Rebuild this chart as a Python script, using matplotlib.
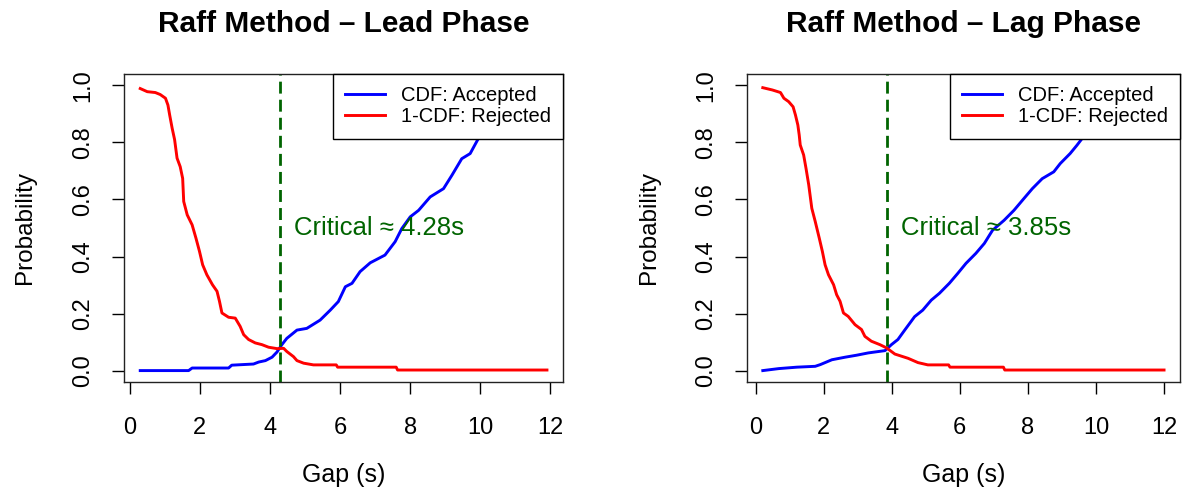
import matplotlib
matplotlib.use("Agg")
import matplotlib.pyplot as plt

plt.rcParams['font.family'] = ['Liberation Sans', 'DejaVu Sans']

# Lead phase: CDF of accepted gaps and 1-CDF of rejected gaps
lead_acc_x = [0.30, 1.68, 1.78, 2.82, 2.91, 3.53, 3.68, 3.87, 4.06, 4.20, 4.34, 4.48,
              4.77, 5.05, 5.43, 5.72, 5.95, 6.15, 6.34, 6.57, 6.86, 7.28, 7.57, 7.76,
              8.00, 8.24, 8.57, 8.95, 9.19, 9.47, 9.71, 9.94, 10.6, 11.3, 11.9]
lead_acc_y = [0.0, 0.0, 0.009, 0.009, 0.019, 0.023, 0.030, 0.035, 0.047, 0.065, 0.091, 0.113,
              0.142, 0.148, 0.177, 0.212, 0.242, 0.294, 0.306, 0.347, 0.378, 0.405, 0.452, 0.498,
              0.539, 0.562, 0.609, 0.638, 0.685, 0.743, 0.761, 0.813, 0.90, 0.96, 1.0]
lead_rej_x = [0.30, 0.50, 0.73, 0.87, 1.02, 1.09, 1.14, 1.21, 1.28, 1.35, 1.44, 1.51,
              1.54, 1.64, 1.78, 1.89, 1.99, 2.08, 2.20, 2.36, 2.49, 2.56, 2.63, 2.82,
              3.01, 3.15, 3.25, 3.39, 3.58, 3.77, 3.96, 4.20, 4.39, 4.48, 4.67, 4.77,
              4.96, 5.24, 5.89, 5.93, 7.60, 7.64, 11.9]
lead_rej_y = [0.989, 0.978, 0.975, 0.968, 0.955, 0.931, 0.896, 0.850, 0.810, 0.745, 0.715, 0.674,
              0.593, 0.546, 0.511, 0.464, 0.418, 0.371, 0.336, 0.301, 0.278, 0.243, 0.202, 0.187,
              0.184, 0.155, 0.126, 0.109, 0.097, 0.091, 0.082, 0.077, 0.078, 0.067, 0.049, 0.035,
              0.026, 0.020, 0.020, 0.012, 0.012, 0.002, 0.002]
lead_critical = 4.28

# Lag phase
lag_acc_x = [0.21, 0.68, 1.21, 1.75, 1.90, 2.24, 2.63, 2.97, 3.31, 3.80, 3.99, 4.18,
             4.38, 4.67, 4.91, 5.16, 5.40, 5.69, 5.94, 6.18, 6.47, 6.72, 6.96, 7.30,
             7.59, 7.88, 8.13, 8.42, 8.76, 8.95, 9.24, 9.44, 9.60, 10.4, 11.2, 12.0]
lag_acc_y = [0.0, 0.007, 0.012, 0.015, 0.021, 0.038, 0.047, 0.054, 0.062, 0.070, 0.091, 0.109,
             0.142, 0.189, 0.212, 0.247, 0.271, 0.306, 0.341, 0.376, 0.411, 0.446, 0.492, 0.527,
             0.562, 0.603, 0.638, 0.673, 0.697, 0.726, 0.761, 0.790, 0.815, 0.88, 0.95, 1.0]
lag_rej_x = [0.21, 0.49, 0.73, 0.83, 0.97, 1.10, 1.17, 1.24, 1.28, 1.31, 1.41, 1.48, 1.56,
             1.65, 1.75, 1.87, 1.96, 2.04, 2.14, 2.29, 2.38, 2.48, 2.58, 2.72, 2.92,
             3.11, 3.21, 3.40, 3.65, 3.84, 4.09, 4.48, 4.77, 5.06, 5.67, 5.71, 7.28,
             7.32, 12.0]
lag_rej_y = [0.992, 0.984, 0.975, 0.955, 0.943, 0.925, 0.896, 0.861, 0.826, 0.791, 0.756, 0.709, 0.651,
             0.569, 0.523, 0.464, 0.418, 0.371, 0.336, 0.301, 0.266, 0.243, 0.202, 0.190, 0.161,
             0.144, 0.120, 0.103, 0.091, 0.080, 0.058, 0.043, 0.028, 0.020, 0.020, 0.012, 0.012,
             0.002, 0.002]
lag_critical = 3.85

x_ticks = [0, 2, 4, 6, 8, 10, 12]
y_ticks = [0.0, 0.2, 0.4, 0.6, 0.8, 1.0]

panels = [
    ("Raff Method \u2013 Lead Phase", lead_acc_x, lead_acc_y, lead_rej_x, lead_rej_y, lead_critical),
    ("Raff Method \u2013 Lag Phase", lag_acc_x, lag_acc_y, lag_rej_x, lag_rej_y, lag_critical),
]
positions = [[0.1047, 0.222, 0.371, 0.6273], [0.6307, 0.222, 0.366, 0.6273]]

fig = plt.figure(figsize=(11.84, 4.91), dpi=100)

for pos, (title, ax_x, ax_y, rx, ry, crit) in zip(positions, panels):
    ax = fig.add_axes(pos)
    ax.plot(ax_x, ax_y, color='blue', lw=2.1, label='CDF: Accepted')
    ax.plot(rx, ry, color='red', lw=2.1, label='1-CDF: Rejected')
    ax.margins(x=0.04, y=0.04)
    ax.axvline(crit, color='#006400', lw=2, dashes=(4.3, 2.2))
    ax.annotate(f"Critical \u2248 {crit:.2f}s", xy=(crit, 0.5), xytext=(10.5, 0),
                textcoords='offset points', ha='left', va='center',
                color='#006400', fontsize=18.5)

    ax.set_xticks(x_ticks)
    ax.set_yticks(y_ticks)
    ax.set_yticklabels([f"{v:.1f}" for v in y_ticks])
    ax.tick_params(length=8.5, width=1, labelsize=17)
    ax.tick_params(axis='x', pad=16.5)
    ax.tick_params(axis='y', labelrotation=90, pad=13)
    for lab in ax.get_yticklabels():
        lab.set_va('center')
    for s in ax.spines.values():
        s.set_linewidth(1)
        s.set_color('#222222')

    ax.set_title(title, fontsize=21.5, fontweight='bold', y=1.137, pad=0, va='baseline')
    ax.set_xlabel("Gap (s)", fontsize=18, va='center')
    ax.set_ylabel("Probability", fontsize=17.5, va='center')
    ax.xaxis.set_label_coords(0.5, -0.302)
    ax.yaxis.set_label_coords(-0.226, 0.5)

    leg = ax.legend(loc='upper right', borderaxespad=0, fancybox=False, fontsize=14.5,
                    edgecolor='black', framealpha=1, handlelength=2.0,
                    handletextpad=0.8, borderpad=0.6, labelspacing=0.12)
    leg.get_frame().set_linewidth(1)

fig.savefig("out.png", dpi=100)
